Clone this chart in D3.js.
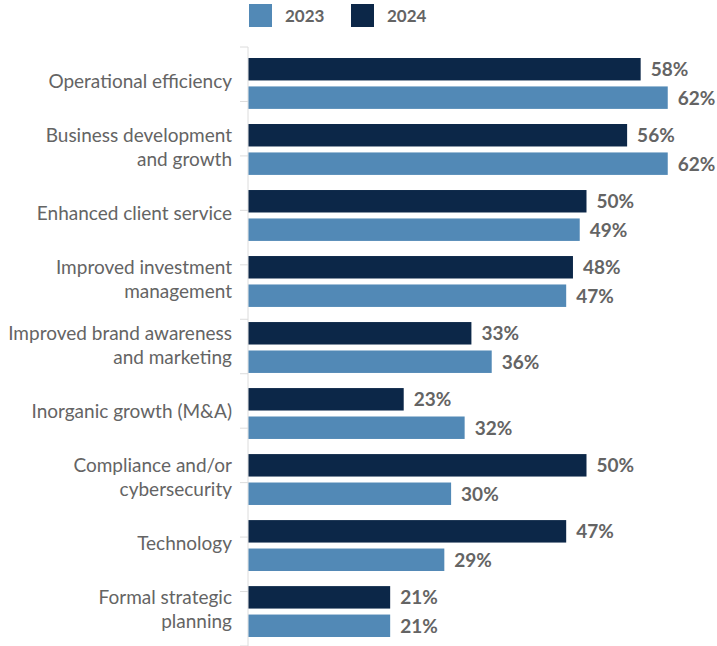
<!DOCTYPE html>
<html>
<head>
<meta charset="utf-8">
<script src="https://cdn.jsdelivr.net/npm/d3@7"></script>
<style>
  html, body { margin: 0; padding: 0; background: #fff; }
  svg { display: block; font-family: "Lato", "Noto Sans", sans-serif; }
</style>
</head>
<body>
<svg id="chart" width="717" height="646"></svg>
<script>
// Survey priorities, share of respondents (%)
const categories = [
  "Operational efficiency",
  "Business development|and growth",
  "Enhanced client service",
  "Improved investment|management",
  "Improved brand awareness|and marketing",
  "Inorganic growth (M&A)",
  "Compliance and/or|cybersecurity",
  "Technology",
  "Formal strategic|planning"
];
const seriesNames = ["2024", "2023"];
const values2024 = [58, 56, 50, 48, 33, 23, 50, 47, 21];
const values2023 = [62, 62, 49, 47, 36, 32, 30, 29, 21];
const legendOrder = ["2023", "2024"];

const colors = { "2024": "#0c2748", "2023": "#5289b6" };
const textColor = "#646464";

const svg = d3.select("#chart");
const axisX = 248;

const x = d3.scaleLinear().domain([0, 100]).range([axisX, axisX + 677]);

const y = d3.scaleBand()
  .domain(categories)
  .range([58, 637])
  .paddingInner(0.229)
  .paddingOuter(0);

const ySub = d3.scaleBand()
  .domain(seriesNames)
  .range([0, y.bandwidth()])
  .paddingInner(0.21);

const rows = categories.map((c, i) => ({
  category: c,
  values: [
    { series: "2024", value: values2024[i] },
    { series: "2023", value: values2023[i] }
  ]
}));

// Category axis: light rule with evenly spaced ticks
const tickPos = d3.scaleLinear().domain([0, 11]).range([47, 646]);
const axisG = svg.append("g").attr("class", "axis");
axisG.append("line")
  .attr("x1", axisX).attr("x2", axisX)
  .attr("y1", 47).attr("y2", 646)
  .attr("stroke", "#dcdcdc").attr("stroke-width", 1);
axisG.selectAll("line.tick")
  .data(d3.range(12))
  .join("line")
  .attr("class", "tick")
  .attr("x1", axisX - 8).attr("x2", axisX)
  .attr("y1", d => tickPos(d)).attr("y2", d => tickPos(d))
  .attr("stroke", "#dcdcdc").attr("stroke-width", 1);

// Bars
const groups = svg.append("g").selectAll("g.row")
  .data(rows)
  .join("g")
  .attr("class", "row")
  .attr("transform", d => `translate(0,${y(d.category)})`);

groups.selectAll("rect")
  .data(d => d.values)
  .join("rect")
  .attr("x", x(0) + 0.5)
  .attr("y", d => ySub(d.series))
  .attr("width", d => x(d.value) - x(0) - 0.5)
  .attr("height", ySub.bandwidth())
  .attr("fill", d => colors[d.series]);

// Value labels
groups.selectAll("text.value")
  .data(d => d.values)
  .join("text")
  .attr("class", "value")
  .attr("x", d => x(d.value) + 10)
  .attr("y", d => ySub(d.series) + ySub.bandwidth() / 2)
  .attr("dy", "0.36em")
  .attr("fill", textColor)
  .attr("font-size", 19)
  .attr("font-weight", 700)
  .text(d => d.value + "%");

// Category labels (right aligned, wrapped on "|")
const lineH = 24;
groups.append("text")
  .attr("class", "cat")
  .attr("text-anchor", "end")
  .attr("fill", textColor)
  .attr("font-size", 19)
  .each(function (d) {
    const lines = d.category.split("|");
    const mid = y.bandwidth() / 2 - 2;
    const start = mid - (lines.length - 1) * lineH / 2;
    d3.select(this).selectAll("tspan")
      .data(lines)
      .join("tspan")
      .attr("x", 232)
      .attr("y", (l, i) => start + i * lineH)
      .attr("dy", "0.35em")
      .text(l => l);
  });

// Legend
const legend = svg.append("g").attr("class", "legend");
const legendX = d3.scalePoint().domain(legendOrder).range([249, 351]);
const item = legend.selectAll("g")
  .data(legendOrder)
  .join("g")
  .attr("transform", d => `translate(${legendX(d)},4)`);
item.append("rect")
  .attr("width", 23).attr("height", 23)
  .attr("fill", d => colors[d]);
item.append("text")
  .attr("x", 36).attr("y", 11.5)
  .attr("dy", "0.36em")
  .attr("fill", textColor)
  .attr("font-size", 17)
  .attr("font-weight", 700)
  .text(d => d);
</script>
</body>
</html>
